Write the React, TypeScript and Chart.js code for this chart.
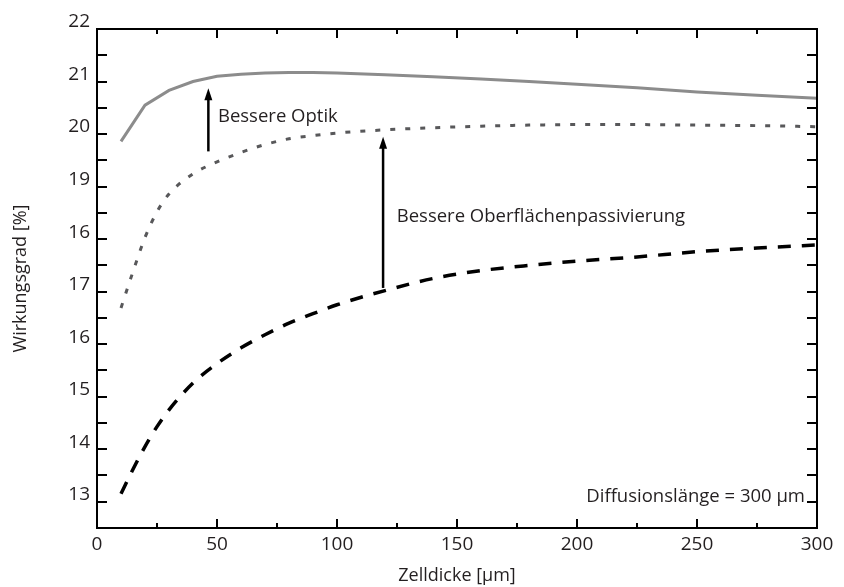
import React, { useEffect, useRef } from 'react';
import { Chart, registerables } from 'chart.js';

Chart.register(...registerables);

// Zelldicke [µm] and Wirkungsgrad [%] for each curve
const solidX = [10, 20, 30, 40, 50, 60, 70, 80, 90, 100, 120, 140, 160, 180, 200, 225, 250, 275, 300];
const solidY = [19.86, 20.55, 20.83, 21.0, 21.1, 21.14, 21.16, 21.17, 21.17, 21.16, 21.13, 21.09, 21.05, 21.0, 20.95, 20.88, 20.8, 20.74, 20.68];

const dottedX = [10, 15, 20, 25, 30, 40, 50, 60, 70, 80, 90, 100, 120, 140, 160, 180, 200, 225, 250, 275, 300];
const dottedY = [16.69, 17.38, 18.03, 18.52, 18.86, 19.24, 19.47, 19.65, 19.8, 19.91, 19.97, 20.02, 20.08, 20.12, 20.15, 20.17, 20.18, 20.18, 20.17, 20.16, 20.14];

const dashedX = [10, 15, 20, 25, 30, 40, 50, 60, 70, 80, 90, 100, 120, 140, 160, 180, 200, 225, 250, 275, 300];
const dashedY = [13.15, 13.62, 14.05, 14.43, 14.75, 15.26, 15.63, 15.93, 16.18, 16.4, 16.58, 16.75, 17.02, 17.25, 17.4, 17.5, 17.58, 17.66, 17.76, 17.83, 17.89];

// y tick labels as printed in the original (note the "16" at the 18 position)
const yTickValues = [13, 14, 15, 16, 17, 18, 19, 20, 21, 22];
const yTickLabels = ['13', '14', '15', '16', '17', '16', '19', '20', '21', '22'];
const xTickValues = [0, 50, 100, 150, 200, 250, 300];
const xTickLabels = ['0', '50', '100', '150', '200', '250', '300'];

// annotation arrows (data coordinates)
const arrowX = [46.4, 119.2];
const arrowFrom = [19.67, 17.07];
const arrowTo = [20.87, 19.95];

// annotation texts (data coordinates)
const noteText = ['Bessere Optik', 'Bessere Oberflächenpassivierung', 'Diffusionslänge = 300 µm'];
const noteX = [50.4, 124.9, 295];
const noteY = [20.33, 18.43, 13.09];
const noteAlign: CanvasTextAlign[] = ['left', 'left', 'right'];

const FONT = '"Open Sans", sans-serif';
const TEXT_COLOR = '#231f20';

const framePlugin = {
  id: 'frameTicksNotes',
  afterDatasetsDraw(chart: any) {
    const ctx: CanvasRenderingContext2D = chart.ctx;
    const { left, right, top, bottom } = chart.chartArea;
    const xs = chart.scales.x;
    const ys = chart.scales.y;
    ctx.save();
    ctx.strokeStyle = '#000';
    ctx.lineWidth = 2;
    ctx.lineCap = 'butt';
    ctx.strokeRect(left, top, right - left, bottom - top);
    // x ticks (inward, top and bottom)
    for (let v = 0; v <= 300; v += 25) {
      const px = Math.round(xs.getPixelForValue(v));
      const len = v % 50 === 0 ? 9 : 5;
      ctx.beginPath();
      ctx.moveTo(px, bottom);
      ctx.lineTo(px, bottom - len);
      ctx.moveTo(px, top);
      ctx.lineTo(px, top + len);
      ctx.stroke();
    }
    // y ticks (inward, left and right)
    for (let v = 12.5; v <= 22; v += 0.5) {
      const py = Math.round(ys.getPixelForValue(v));
      const len = 10;
      ctx.beginPath();
      ctx.moveTo(left, py);
      ctx.lineTo(left + len, py);
      ctx.moveTo(right, py);
      ctx.lineTo(right - len, py);
      ctx.stroke();
    }
    // arrows
    ctx.fillStyle = '#000';
    ctx.lineWidth = 2.5;
    for (let i = 0; i < arrowX.length; i++) {
      const px = xs.getPixelForValue(arrowX[i]);
      const y0 = ys.getPixelForValue(arrowFrom[i]);
      const y1 = ys.getPixelForValue(arrowTo[i]);
      const head = 12;
      ctx.beginPath();
      ctx.moveTo(px, y0);
      ctx.lineTo(px, y1 + head - 1);
      ctx.stroke();
      ctx.beginPath();
      ctx.moveTo(px, y1);
      ctx.lineTo(px - 4, y1 + head);
      ctx.lineTo(px + 4, y1 + head);
      ctx.closePath();
      ctx.fill();
    }
    // notes
    ctx.fillStyle = TEXT_COLOR;
    ctx.font = `18.5px ${FONT}`;
    ctx.textBaseline = 'middle';
    for (let i = 0; i < noteText.length; i++) {
      ctx.textAlign = noteAlign[i];
      ctx.fillText(noteText[i], xs.getPixelForValue(noteX[i]), ys.getPixelForValue(noteY[i]));
    }
    ctx.restore();
  },
};

export default function App() {
  const ref = useRef<HTMLCanvasElement | null>(null);

  useEffect(() => {
    document.body.style.margin = '0';
    const canvas = ref.current;
    if (!canvas) return;
    const chart = new Chart(canvas, {
      type: 'line',
      data: {
        datasets: [
          {
            label: 'solid',
            data: solidX.map((x, i) => ({ x, y: solidY[i] })),
            borderColor: '#8c8c8c',
            borderWidth: 3,
            pointRadius: 0,
            tension: 0,
            fill: false,
          },
          {
            label: 'dotted',
            data: dottedX.map((x, i) => ({ x, y: dottedY[i] })),
            borderColor: '#58585a',
            borderWidth: 3,
            borderDash: [5, 10],
            pointRadius: 0,
            cubicInterpolationMode: 'monotone',
            fill: false,
          },
          {
            label: 'dashed',
            data: dashedX.map((x, i) => ({ x, y: dashedY[i] })),
            borderColor: '#000',
            borderWidth: 3.5,
            borderDash: [13, 11],
            pointRadius: 0,
            cubicInterpolationMode: 'monotone',
            fill: false,
          },
        ],
      },
      options: {
        responsive: false,
        animation: false,
        devicePixelRatio: 1,
        layout: { padding: { top: 29, right: 27, left: 0, bottom: 0 } },
        plugins: { legend: { display: false }, tooltip: { enabled: false } },
        scales: {
          x: {
            type: 'linear',
            min: 0,
            max: 300,
            border: { display: false },
            grid: { display: false, drawTicks: false },
            ticks: {
              stepSize: 25,
              autoSkip: false,
              maxRotation: 0,
              padding: 5,
              color: TEXT_COLOR,
              font: { family: FONT, size: 19 },
              callback: (v: any) => {
                const i = xTickValues.indexOf(Number(v));
                return i >= 0 ? xTickLabels[i] : '';
              },
            },
            title: {
              display: true,
              text: 'Zelldicke [µm]',
              color: TEXT_COLOR,
              font: { family: FONT, size: 18 },
              padding: { top: 0, bottom: 0 },
            },
            afterFit: (s: any) => {
              s.height = 59;
            },
          },
          y: {
            type: 'linear',
            min: 12.5,
            max: 22,
            border: { display: false },
            grid: { display: false, drawTicks: false },
            ticks: {
              stepSize: 0.5,
              autoSkip: false,
              padding: 7,
              labelOffset: -7,
              color: TEXT_COLOR,
              font: { family: FONT, size: 19 },
              callback: (v: any) => {
                const i = yTickValues.indexOf(Number(v));
                return i >= 0 ? yTickLabels[i] : '';
              },
            },
            title: {
              display: true,
              text: 'Wirkungsgrad [%]',
              color: TEXT_COLOR,
              font: { family: FONT, size: 18 },
              padding: { top: 10, bottom: 0 },
            },
            afterFit: (s: any) => {
              s.width = 97;
            },
          },
        },
      },
      plugins: [framePlugin],
    });
    return () => chart.destroy();
  }, []);

  return <canvas ref={ref} width={844} height={587} style={{ display: 'block', width: 844, height: 587 }} />;
}
